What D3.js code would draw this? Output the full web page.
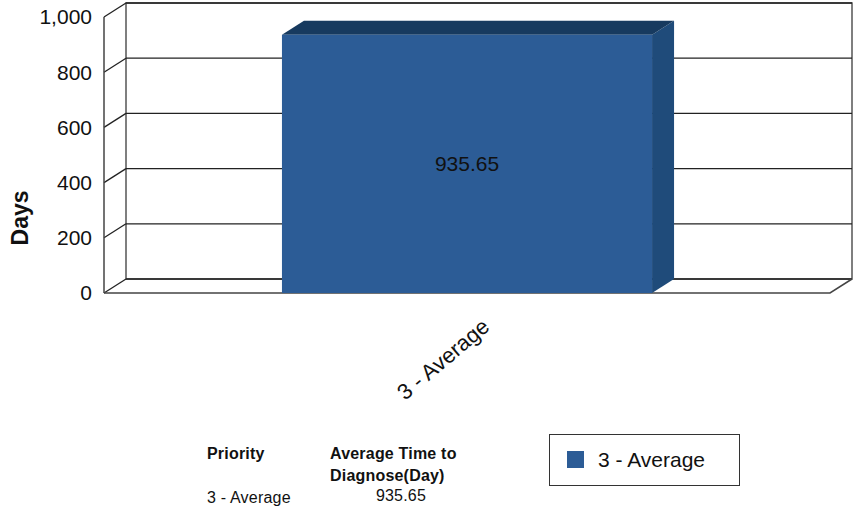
<!DOCTYPE html>
<html>
<head>
<meta charset="utf-8">
<script src="https://cdn.jsdelivr.net/npm/d3@7"></script>
<style>
  html, body { margin: 0; padding: 0; background: #fff; }
  svg { display: block; font-family: "Liberation Sans", Arial, sans-serif; }
</style>
</head>
<body>
<svg id="chart" width="853" height="510"></svg>
<script>
// ---- data ----
const categories = ["3 - Average"];
const values = [935.65];
const yTicks = [0, 200, 400, 600, 800, 1000];
const yTitle = "Days";
const tableHeaders = ["Priority", "Average Time to", "Diagnose(Day)"];
const tableRows = [["3 - Average", "935.65"]];
const legendLabels = ["3 - Average"];

// ---- layout ----
const svg = d3.select("#chart");
const DX = 22, DY = -14;            // 3D depth offset
const x = d3.scaleBand().domain(categories).range([104, 830]).paddingInner(0.3247).paddingOuter(0.3247);
const y = d3.scaleLinear().domain([0, 1000]).range([293, 17]);

const colFront = "#2c5c96", colSide = "#1f4b7a", colTop = "#173a5f";
const gridCol = "#222";

const g = svg.append("g");

// back wall
const x0 = x.range()[0], x1 = x.range()[1];
g.append("rect").attr("x", x0 + DX).attr("y", y(1000) + DY)
  .attr("width", x1 - x0).attr("height", y(0) - y(1000))
  .attr("fill", "#fff").attr("stroke", "#555").attr("stroke-width", 1.5);

// gridlines (back wall + left wall)
yTicks.forEach(t => {
  g.append("line").attr("x1", x0 + DX).attr("x2", x1 + DX)
    .attr("y1", y(t) + DY).attr("y2", y(t) + DY)
    .attr("stroke", gridCol).attr("stroke-width", 1.3);
  g.append("line").attr("x1", x0).attr("x2", x0 + DX)
    .attr("y1", y(t)).attr("y2", y(t) + DY)
    .attr("stroke", gridCol).attr("stroke-width", 1.3);
});
// left wall front edge
g.append("line").attr("x1", x0).attr("x2", x0).attr("y1", y(1000)).attr("y2", y(0))
  .attr("stroke", "#444").attr("stroke-width", 1.5);
// floor
g.append("path")
  .attr("d", `M${x0},${y(0)} L${x1},${y(0)} L${x1 + DX},${y(0) + DY}`)
  .attr("fill", "none").attr("stroke", "#444").attr("stroke-width", 1.5);

// y tick labels
g.selectAll(".ytl").data(yTicks).join("text")
  .attr("x", 92).attr("y", d => y(d)).attr("dy", "0.35em")
  .attr("text-anchor", "end").attr("font-size", 21)
  .attr("fill", "#111").text(d => d3.format(",")(d));

// y title
svg.append("text").attr("transform", "translate(28,218) rotate(-90)")
  .attr("text-anchor", "middle").attr("font-size", 23).attr("font-weight", "bold")
  .attr("fill", "#111").text(yTitle);

// bars
categories.forEach((c, i) => {
  const bx = x(c), bw = x.bandwidth(), top = y(values[i]), bot = y(0);
  // side
  g.append("path").attr("d",
    `M${bx + bw},${top} L${bx + bw + DX},${top + DY} L${bx + bw + DX},${bot + DY} L${bx + bw},${bot} Z`)
    .attr("fill", colSide);
  // top
  g.append("path").attr("d",
    `M${bx},${top} L${bx + DX},${top + DY} L${bx + bw + DX},${top + DY} L${bx + bw},${top} Z`)
    .attr("fill", colTop);
  // front
  g.append("rect").attr("x", bx).attr("y", top).attr("width", bw).attr("height", bot - top)
    .attr("fill", colFront);
  // value label
  g.append("text").attr("x", bx + bw / 2).attr("y", (top + bot) / 2).attr("dy", "0.35em")
    .attr("text-anchor", "middle").attr("font-size", 21)
    .attr("fill", "#111").text(values[i].toFixed(2));
  // category label
  const cx = bx + bw / 2 + 24;
  g.append("text").attr("transform", `translate(${cx},${bot + 36}) rotate(-40)`)
    .attr("text-anchor", "end").attr("font-size", 22)
    .attr("fill", "#111").text(c);
});

// table
const tb = svg.append("g").attr("font-size", 16).attr("letter-spacing", 0.2).attr("fill", "#111");
tb.append("text").attr("x", 207).attr("y", 459).attr("font-weight", "bold").text(tableHeaders[0]);
tb.append("text").attr("x", 330).attr("y", 459).attr("font-weight", "bold").text(tableHeaders[1]);
tb.append("text").attr("x", 330).attr("y", 481).attr("font-weight", "bold").text(tableHeaders[2]);
tableRows.forEach((r, i) => {
  tb.append("text").attr("x", 207).attr("y", 503 + i * 22).text(r[0]);
  tb.append("text").attr("x", 401).attr("y", 501 + i * 22).attr("text-anchor", "middle").text(r[1]);
});

// legend
const lg = svg.append("g");
lg.append("rect").attr("x", 549.5).attr("y", 434.5).attr("width", 190).attr("height", 51)
  .attr("fill", "#fff").attr("stroke", "#333").attr("stroke-width", 1);
legendLabels.forEach((l, i) => {
  lg.append("rect").attr("x", 567).attr("y", 451 + i * 24).attr("width", 17).attr("height", 17).attr("fill", colFront);
  lg.append("text").attr("x", 598).attr("y", 467 + i * 24).attr("font-size", 21)
    .attr("fill", "#111").text(l);
});
</script>
</body>
</html>
